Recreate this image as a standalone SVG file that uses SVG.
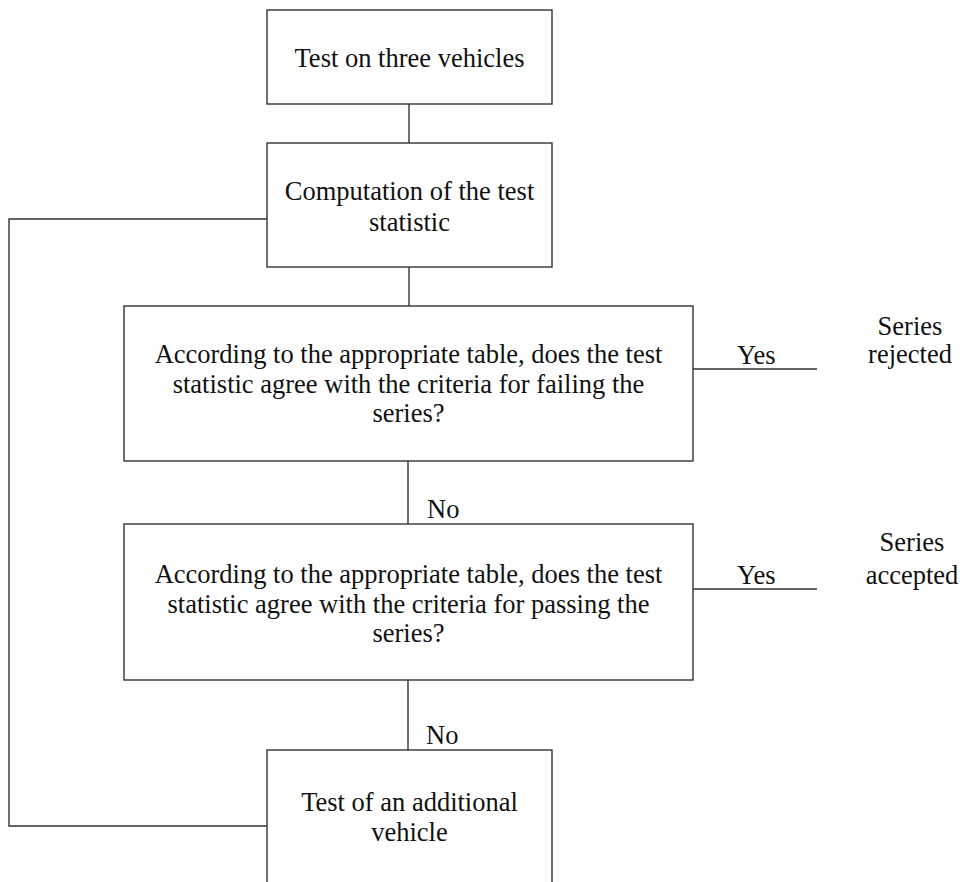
<svg xmlns="http://www.w3.org/2000/svg" width="963" height="882" viewBox="0 0 963 882">
<style>
  .box { fill: #ffffff; stroke: #333333; stroke-width: 1.4; }
  .conn { fill: none; stroke: #333333; stroke-width: 1.4; }
  text { font-family: "Liberation Serif", "Times New Roman", serif; font-size: 26.5px; fill: #111111; }
  .c { text-anchor: middle; }
</style>
<rect width="963" height="882" fill="#ffffff"/>
<g id="connectors">
  <line class="conn" x1="409" y1="104" x2="409" y2="143"/>
  <line class="conn" x1="409" y1="267" x2="409" y2="306"/>
  <line class="conn" x1="408" y1="461" x2="408" y2="524"/>
  <line class="conn" x1="408" y1="680" x2="408" y2="750"/>
  <line class="conn" x1="693" y1="369" x2="817" y2="369"/>
  <line class="conn" x1="693" y1="589" x2="817" y2="589"/>
  <polyline class="conn" points="267,219 9,219 9,826 267,826"/>
  <text x="737" y="364">Yes</text>
  <text x="737" y="584">Yes</text>
  <text x="427" y="518">No</text>
  <text x="426" y="744">No</text>
</g>
<g id="node-test-three">
  <rect class="box" x="267" y="10" width="285" height="94"/>
  <text class="c" x="409.5" y="67">Test on three vehicles</text>
</g>
<g id="node-computation">
  <rect class="box" x="267" y="143" width="285" height="124"/>
  <text class="c" x="409.5" y="200">Computation of the test</text>
  <text class="c" x="409.5" y="231">statistic</text>
</g>
<g id="node-failing">
  <rect class="box" x="124" y="306" width="569" height="155"/>
  <text class="c" x="408.5" y="363">According to the appropriate table, does the test</text>
  <text class="c" x="408.5" y="392.5">statistic agree with the criteria for failing the</text>
  <text class="c" x="408.5" y="422">series?</text>
</g>
<g id="node-passing">
  <rect class="box" x="124" y="524" width="569" height="156"/>
  <text class="c" x="408.5" y="583">According to the appropriate table, does the test</text>
  <text class="c" x="408.5" y="612.5">statistic agree with the criteria for passing the</text>
  <text class="c" x="408.5" y="642">series?</text>
</g>
<g id="node-rejected">
  <text class="c" x="910" y="335">Series</text>
  <text class="c" x="910" y="363">rejected</text>
</g>
<g id="node-accepted">
  <text class="c" x="912" y="551">Series</text>
  <text class="c" x="912" y="584">accepted</text>
</g>
<g id="node-additional">
  <rect class="box" x="267" y="750" width="285" height="150"/>
  <text class="c" x="409.5" y="811">Test of an additional</text>
  <text class="c" x="409.5" y="841">vehicle</text>
</g>
</svg>
